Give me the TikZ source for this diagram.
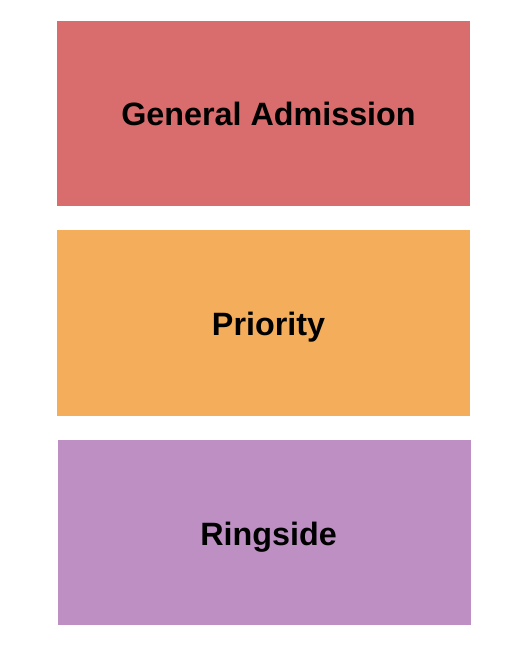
\documentclass[tikz,border=0pt]{standalone}
\usepackage{fontspec}
\setmainfont{Liberation Sans}
\definecolor{gacol}{HTML}{D96C6C}
\definecolor{prcol}{HTML}{F4AD5A}
\definecolor{rscol}{HTML}{BD8FC3}
\begin{document}
\begin{tikzpicture}[x=1pt,y=-1pt,
  lbl/.style={font=\bfseries\fontsize{32.3}{38}\selectfont, text=black, anchor=base, inner sep=0pt}]
\useasboundingbox (0,0) rectangle (525,650);
\fill[white] (0,0) rectangle (525,650);
\fill[gacol] (57,21) rectangle (470,206);
\fill[prcol] (57,230) rectangle (470,415.5);
\fill[rscol] (58,439.5) rectangle (471,625);
\node[lbl] (ga) at (268.5,125) {General Admission};
\node[lbl] (pr) at (268.5,335) {Priority};
\node[lbl] (rs) at (268.5,545) {Ringside};
\end{tikzpicture}
\end{document}
